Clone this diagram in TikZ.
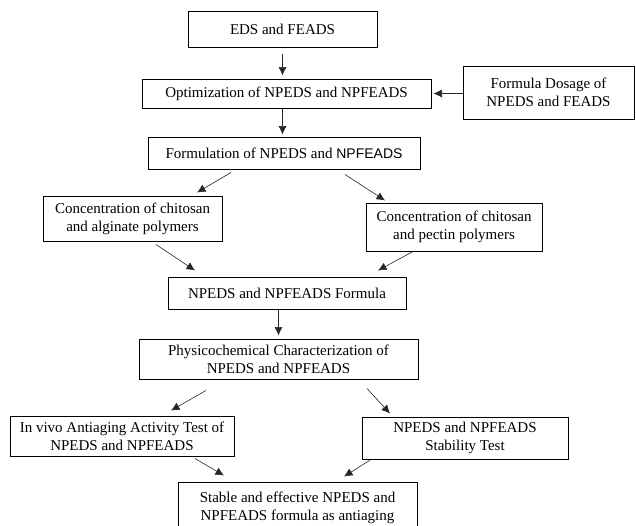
\documentclass[tikz,border=0pt]{standalone}
\usepackage{fontspec}
\setmainfont{Liberation Serif}
\newfontfamily\sansword{Liberation Sans}
\usetikzlibrary{arrows.meta}

\begin{document}
\begin{tikzpicture}[x=1pt,y=-1pt,>={Latex[length=8.5pt,width=8pt]},
        box/.style={draw,line width=1pt,align=center,inner sep=0pt,
                font=\fontsize{15pt}{18pt}\selectfont},
        arr/.style={->,line width=0.6pt,black!85}]
        % fix the page
        \clip (0,0) rectangle (636,525);
        % draw the main column
        \node[box,minimum width=189pt,minimum height=36pt] (eds) at (282.5,29) {EDS and FEADS};
        \node[box,minimum width=289pt,minimum height=29pt] (opt) at (286.5,93.5) {Optimization of NPEDS and NPFEADS};
        \node[box,minimum width=171pt,minimum height=53pt] (dose) at (548.5,92.5) {Formula Dosage of\\NPEDS and FEADS};
        \node[box,minimum width=272pt,minimum height=32pt] (form) at (284,153) {Formulation of NPEDS and {\sansword\fontsize{14pt}{18pt}\selectfont NPFEADS}};
        % draw the two polymer boxes
        \node[box,minimum width=179pt,minimum height=45pt] (algi) at (132.5,218.5) {Concentration of chitosan\\and alginate polymers};
        \node[box,minimum width=176pt,minimum height=48pt] (pect) at (454,227) {Concentration of chitosan\\and pectin polymers};
        \node[box,minimum width=238pt,minimum height=32pt] (fml) at (287,293) {NPEDS and NPFEADS Formula};
        \node[box,minimum width=279pt,minimum height=40pt] (phys) at (278.5,359) {Physicochemical Characterization of\\NPEDS and NPFEADS};
        % draw the two tests and the result
        \node[box,minimum width=224pt,minimum height=40pt] (vivo) at (122,436) {In vivo Antiaging Activity Test of\\NPEDS and NPFEADS};
        \node[box,minimum width=206pt,minimum height=42pt] (stab) at (465,438) {NPEDS and NPFEADS\\Stability Test};
        \node[box,minimum width=239pt,minimum height=52pt] (stbl) at (297.5,508) {Stable and effective NPEDS and\\NPFEADS formula as antiaging};

        % draw the arrows
        \draw[arr,shorten <=6pt,shorten >=3pt] (eds.south) -- (eds.south |- opt.north);
        \draw[arr,shorten >=2pt] (dose.west |- opt.east) -- (opt.east);
        \draw[arr,shorten >=2pt] (opt.south -| eds.south) -- (form.north -| eds.south);
        \draw[arr] ([xshift=-53pt,yshift=-3pt]form.south) -- ([xshift=64.5pt,yshift=3pt]algi.north);
        \draw[arr] ([xshift=61pt,yshift=-5pt]form.south) -- ([xshift=-69pt,yshift=2pt]pect.north);
        \draw[arr] ([xshift=23.5pt,yshift=-3pt]algi.south) -- ([xshift=-92pt,yshift=6pt]fml.north);
        \draw[arr] ([xshift=-41pt]pect.south) -- ([xshift=91pt,yshift=6pt]fml.north);
        \draw[arr,shorten >=3pt] (fml.south -| phys.north) -- (phys.north);
        \draw[arr] ([xshift=-72.5pt,yshift=-11pt]phys.south) -- ([xshift=49pt,yshift=5pt]vivo.north);
        \draw[arr] ([xshift=88.5pt,yshift=-9pt]phys.south) -- ([xshift=-75pt,yshift=3pt]stab.north);
        \draw[arr] ([xshift=73pt,yshift=-2pt]vivo.south) -- ([xshift=-73.5pt,yshift=6pt]stbl.north);
        \draw[arr] ([xshift=-94pt]stab.south) -- ([xshift=46.5pt,yshift=5pt]stbl.north);
\end{tikzpicture}
\end{document}
